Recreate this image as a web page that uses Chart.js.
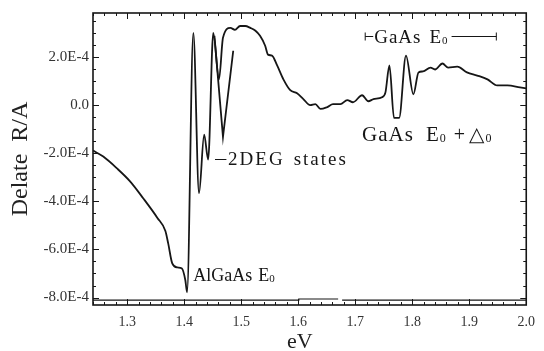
<!DOCTYPE html>
<html>
<head>
<meta charset="utf-8">
<script src="https://cdn.jsdelivr.net/npm/chart.js@4.4.1/dist/chart.umd.min.js"></script>
<style>
  html, body { margin: 0; padding: 0; background: #fff; }
  canvas { display: block; }
</style>
</head>
<body>
<canvas id="grafico" width="544" height="351"></canvas>
<script>
// photon energy (eV) and delta R/A (in units of 1E-4)
const energyEV = [1.240, 1.258, 1.282, 1.305, 1.328, 1.353, 1.367, 1.372, 1.379, 1.388, 1.396, 1.402, 1.405,
  1.416, 1.426, 1.435, 1.442, 1.451, 1.461, 1.468, 1.481, 1.489, 1.498, 1.507, 1.516, 1.525, 1.533, 1.542,
  1.547, 1.554, 1.563, 1.574, 1.586, 1.598, 1.609, 1.621, 1.630, 1.639, 1.651, 1.661, 1.674, 1.686, 1.696,
  1.712, 1.723, 1.732, 1.747, 1.753, 1.760, 1.768, 1.777, 1.789, 1.802, 1.811, 1.819, 1.832, 1.840, 1.853,
  1.863, 1.879, 1.896, 1.914, 1.932, 1.949, 1.967, 1.989, 2.000];
const deltaR = [-1.89, -2.14, -2.63, -3.17, -3.87, -4.69, -5.23, -5.76, -6.58, -6.75, -6.79, -7.28, -7.78,
  3.00, -3.66, -1.23, -2.26, 3.00, 1.07, 2.80, 3.21, 3.13, 3.29, 3.29, 3.21, 3.09, 2.88, 2.47,
  2.10, 2.06, 1.65, 1.07, 0.62, 0.49, 0.25, 0.00, 0.04, -0.16, -0.08, 0.04, 0.04, 0.21, 0.12,
  0.41, 0.16, 0.25, 0.33, 0.53, 1.65, -0.53, -0.53, 2.06, 0.45, 1.36, 1.40, 1.56, 1.48, 1.73,
  1.56, 1.60, 1.36, 1.23, 1.07, 0.82, 0.82, 0.74, 0.70];

// second pass of the 2DEG dip (overlapping trace)
const branchEV = [1.453, 1.468, 1.486];
const branchR = [2.88, -1.32, 2.26];

// the double line just above the bottom axis
const baseEV = [1.240, 1.600, 1.601, 1.670, 1.673, 1.677, 2.000];
const baseR = [-8.11, -8.11, -8.06, -8.06, null, -8.11, -8.11];

const xTicks = [1.3, 1.4, 1.5, 1.6, 1.7, 1.8, 1.9, 2.0];
const yTicks = [-8, -6, -4, -2, 0, 2];

const FONT = '"Liberation Serif", "DejaVu Serif", serif';
const INK = "#161616";

const pts = (xs, ys) => xs.map((x, i) => ({ x: x, y: ys[i] }));

function drawParts(ctx, parts, x, y) {
  parts.forEach(p => {
    ctx.font = p.size + "px " + FONT;
    ctx.fillText(p.t, x, y + (p.dy || 0));
    x += ctx.measureText(p.t).width + (p.gap || 0);
  });
  return x;
}

const moldura = {
  id: "moldura",
  afterDatasetsDraw(chart) {
    const { ctx, chartArea: a, scales } = chart;
    const sx = scales.x, sy = scales.y;
    ctx.save();
    ctx.strokeStyle = INK;
    ctx.fillStyle = INK;
    ctx.lineWidth = 1.6;
    ctx.strokeRect(a.left, a.top, a.right - a.left, a.bottom - a.top);

    // ticks pointing inward on all four sides
    ctx.lineWidth = 1;
    ctx.beginPath();
    for (let i = 0; i <= 38; i++) {
      const v = 1.24 + i * 0.02;
      const major = Math.abs(v * 10 - Math.round(v * 10)) < 1e-6;
      const px = Math.round(sx.getPixelForValue(v)) + 0.5;
      const len = major ? 6 : 3;
      ctx.moveTo(px, a.bottom); ctx.lineTo(px, a.bottom - len);
      ctx.moveTo(px, a.top); ctx.lineTo(px, a.top + len);
    }
    for (let i = 0; i <= 23; i++) {
      const v = -8 + i * 0.5;
      const major = Math.abs(v / 2 - Math.round(v / 2)) < 1e-6;
      const py = Math.round(sy.getPixelForValue(v)) + 0.5;
      const len = major ? 6 : 3;
      ctx.moveTo(a.left, py); ctx.lineTo(a.left + len, py);
      ctx.moveTo(a.right, py); ctx.lineTo(a.right - len, py);
    }
    ctx.stroke();

    // x axis title
    ctx.fillStyle = "#222";
    ctx.textAlign = "center";
    ctx.textBaseline = "middle";
    ctx.font = "22px " + FONT;
    ctx.fillText("eV", sx.getPixelForValue(1.603), 342);

    // labels
    ctx.fillStyle = INK;
    ctx.textBaseline = "alphabetic";
    ctx.textAlign = "left";
    drawParts(ctx, [
      { t: "AlGaAs", size: 18, gap: 6 },
      { t: "E", size: 18 },
      { t: "0", size: 11, dy: 1 }
    ], sx.getPixelForValue(1.416), sy.getPixelForValue(-7.3));

    ctx.lineWidth = 1;
    ctx.beginPath();
    const dy2 = Math.round(sy.getPixelForValue(-2.22)) + 0.5;
    ctx.moveTo(sx.getPixelForValue(1.454), dy2);
    ctx.lineTo(sx.getPixelForValue(1.474), dy2);
    ctx.stroke();
    ctx.letterSpacing = "2px";
    drawParts(ctx, [
      { t: "2DEG", size: 19, gap: 9 },
      { t: "states", size: 19 }
    ], sx.getPixelForValue(1.477), sy.getPixelForValue(-2.47));

    ctx.letterSpacing = "1px";
    drawParts(ctx, [
      { t: "GaAs", size: 21, gap: 12 },
      { t: "E", size: 21 },
      { t: "0", size: 12, dy: 1, gap: 7 },
      { t: "+", size: 20, gap: 3 },
      { t: "\u25B3", size: 20 },
      { t: "0", size: 12, dy: 1 }
    ], sx.getPixelForValue(1.712), sy.getPixelForValue(-1.5));

    // GaAs E0 bracket
    const by = Math.round(sy.getPixelForValue(2.88)) + 0.5;
    const bx0 = sx.getPixelForValue(1.7175);
    const bx1 = sx.getPixelForValue(1.9475);
    ctx.letterSpacing = "1px";
    const tEnd = drawParts(ctx, [
      { t: "GaAs", size: 19, gap: 8 },
      { t: "E", size: 19 },
      { t: "0", size: 11, dy: 1 }
    ], bx0 + 9, by + 6);
    ctx.beginPath();
    ctx.moveTo(bx0, by - 4); ctx.lineTo(bx0, by + 4);
    ctx.moveTo(bx0, by); ctx.lineTo(bx0 + 8, by);
    ctx.moveTo(tEnd + 3, by); ctx.lineTo(bx1, by);
    ctx.moveTo(bx1, by - 4); ctx.lineTo(bx1, by + 4);
    ctx.stroke();
    ctx.restore();
  }
};

const linha = { borderColor: INK, borderWidth: 1.8, pointRadius: 0, tension: 0, fill: false };

new Chart(document.getElementById("grafico").getContext("2d"), {
  type: "line",
  data: {
    datasets: [
      Object.assign({ data: pts(energyEV, deltaR) }, linha, { cubicInterpolationMode: "monotone" }),
      Object.assign({ data: pts(branchEV, branchR) }, linha),
      Object.assign({ data: pts(baseEV, baseR), spanGaps: false }, linha, { borderWidth: 1.2 })
    ]
  },
  options: {
    responsive: false,
    animation: false,
    layout: { padding: { left: 0, right: 17, top: 10, bottom: 0 } },
    plugins: { legend: { display: false }, tooltip: { enabled: false } },
    scales: {
      x: {
        type: "linear",
        min: 1.24,
        max: 2.0,
        afterBuildTicks: s => { s.ticks = xTicks.map(v => ({ value: v })); },
        afterFit: s => { s.height = 46; },
        grid: { display: false, drawTicks: false },
        border: { display: false },
        ticks: {
          autoSkip: false, maxRotation: 0, padding: 9, color: "#333",
          font: { family: FONT, size: 14 },
          callback: v => v.toFixed(1)
        }
      },
      y: {
        min: -8.31,
        max: 3.83,
        afterBuildTicks: s => { s.ticks = yTicks.map(v => ({ value: v })); },
        afterFit: s => { s.width = 93; },
        grid: { display: false, drawTicks: false },
        border: { display: false },
        ticks: {
          autoSkip: false, padding: 4, color: "#333",
          font: { family: FONT, size: 15 },
          callback: v => v === 0 ? "0.0" : v.toFixed(1) + "E-4"
        },
        title: {
          display: true, text: "Delate  R/A", color: "#222",
          font: { family: FONT, size: 24 }, padding: { top: 6, bottom: 0 }
        }
      }
    }
  },
  plugins: [moldura]
});
</script>
</body>
</html>
